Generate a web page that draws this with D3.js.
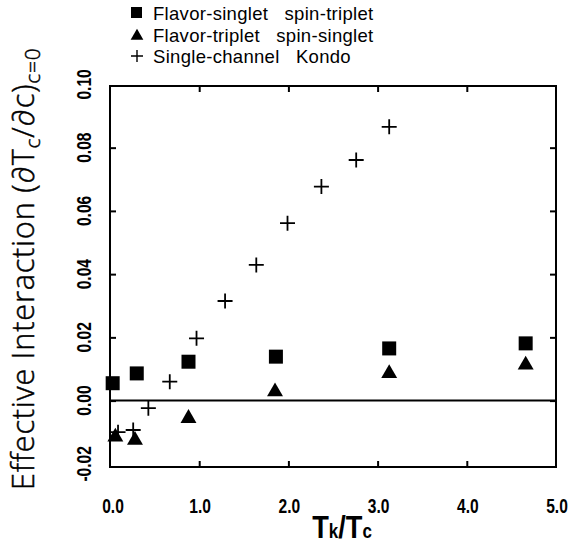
<!DOCTYPE html>
<html>
<head>
<meta charset="utf-8">
<script src="https://cdn.jsdelivr.net/npm/d3@7"></script>
<style>
  html, body { margin: 0; padding: 0; background: #fff; }
  svg { display: block; }
</style>
</head>
<body>
<svg id="chart" width="574" height="548"></svg>
<script>
// ---- data ----
const seriesNames = ["Flavor-singlet   spin-triplet", "Flavor-triplet   spin-singlet", "Single-channel   Kondo"];
const singletX = [0.03, 0.30, 0.88, 1.86, 3.13, 4.66];
const singletY = [0.0055, 0.0086, 0.0123, 0.0139, 0.0165, 0.0181];
const tripletX = [0.06, 0.28, 0.88, 1.85, 3.13, 4.66];
const tripletY = [-0.0115, -0.0125, -0.0056, 0.0028, 0.0086, 0.0113];
const kondoX = [0.09, 0.26, 0.43, 0.67, 0.97, 1.29, 1.64, 1.99, 2.37, 2.76, 3.13];
const kondoY = [-0.0100, -0.0093, -0.0024, 0.0060, 0.0197, 0.0315, 0.0429, 0.0561, 0.0677, 0.0761, 0.0866];
const xTicks = [0, 1, 2, 3, 4, 5];
const xTickLabels = ["0.0", "1.0", "2.0", "3.0", "4.0", "5.0"];
const yTicks = [-0.02, 0, 0.02, 0.04, 0.06, 0.08, 0.10];
const yTickLabels = ["-0.02", "0.00", "0.02", "0.04", "0.06", "0.08", "0.10"];

// ---- layout ----
const L = 110, R = 556, T = 86, B = 467;
const svg = d3.select("#chart");
const x = d3.scaleLinear().domain([0, 5]).range([L, R]);
const y = d3.scaleLinear().domain([-0.021, 0.0995]).range([B, T]);

const tickFont = "'Liberation Sans', Arial, sans-serif";

// frame
svg.append("rect").attr("x", L).attr("y", T).attr("width", R - L).attr("height", B - T)
  .attr("fill", "none").attr("stroke", "#000").attr("stroke-width", 2);

// inward ticks on all four sides (axes)
const tickLen = 6;
const axB = d3.axisBottom(x).tickValues(xTicks.slice(1, -1)).tickSizeInner(-tickLen).tickSizeOuter(0).tickFormat("");
const axT = d3.axisTop(x).tickValues(xTicks.slice(1, -1)).tickSizeInner(-tickLen).tickSizeOuter(0).tickFormat("");
const axL = d3.axisLeft(y).tickValues(yTicks.slice(1, -1)).tickSizeInner(-tickLen).tickSizeOuter(0).tickFormat("");
const axR = d3.axisRight(y).tickValues(yTicks.slice(1, -1)).tickSizeInner(-tickLen).tickSizeOuter(0).tickFormat("");
[[axB, `translate(0,${B})`], [axT, `translate(0,${T})`], [axL, `translate(${L},0)`], [axR, `translate(${R},0)`]].forEach(([ax, tr]) => {
  const g = svg.append("g").attr("transform", tr).call(ax);
  g.select(".domain").remove();
  g.selectAll("line").attr("stroke", "#000").attr("stroke-width", 2);
});

// x tick labels (condensed bold)
svg.append("g").selectAll("text").data(xTicks).join("text")
  .attr("transform", (d, i) => `translate(${x(d) + (i === 0 ? 3 : 1)},513) scale(0.78,1)`)
  .attr("text-anchor", "middle")
  .attr("font-family", tickFont).attr("font-weight", "bold").attr("font-size", 20)
  .text((d, i) => xTickLabels[i]);

// y tick labels (rotated, condensed bold)
svg.append("g").selectAll("text").data(yTicks).join("text")
  .attr("transform", d => `translate(91,${y(d)}) rotate(-90) scale(0.78,1)`)
  .attr("text-anchor", "middle")
  .attr("font-family", tickFont).attr("font-weight", "bold").attr("font-size", 20)
  .text((d, i) => yTickLabels[i]);

// zero line
svg.append("line").attr("x1", L).attr("x2", R).attr("y1", y(0)).attr("y2", y(0))
  .attr("stroke", "#000").attr("stroke-width", 2);

// markers
const sq = 14;
svg.append("g").selectAll("rect").data(singletX.map((d, i) => [d, singletY[i]])).join("rect")
  .attr("x", d => x(d[0]) - sq / 2).attr("y", d => y(d[1]) - sq / 2)
  .attr("width", sq).attr("height", sq).attr("fill", "#000");

const triSym = d3.symbol().type(d3.symbolTriangle).size(110);
svg.append("g").selectAll("path").data(tripletX.map((d, i) => [d, tripletY[i]])).join("path")
  .attr("d", triSym)
  .attr("transform", d => `translate(${x(d[0])},${y(d[1])})`)
  .attr("fill", "#000");

const pl = 7.5;
svg.append("g").selectAll("path").data(kondoX.map((d, i) => [d, kondoY[i]])).join("path")
  .attr("d", d => `M${x(d[0]) - pl},${y(d[1])}H${x(d[0]) + pl}M${x(d[0])},${y(d[1]) - pl}V${y(d[1]) + pl}`)
  .attr("stroke", "#000").attr("stroke-width", 1.8).attr("fill", "none");

// legend
const legFont = "'Liberation Sans', Arial, sans-serif";
const legY = [13, 35, 56];
const leg = svg.append("g");
leg.append("rect").attr("x", 131).attr("y", legY[0] - 6).attr("width", 11).attr("height", 11).attr("fill", "#000");
leg.append("path").attr("d", d3.symbol().type(d3.symbolTriangle).size(70))
  .attr("transform", `translate(137,${legY[1] + 1})`).attr("fill", "#000");
leg.append("path").attr("d", `M131,${legY[2]}H143M137,${legY[2] - 6}V${legY[2] + 6}`)
  .attr("stroke", "#000").attr("stroke-width", 1.4);
leg.selectAll("text").data(seriesNames).join("text")
  .attr("x", 153).attr("y", (d, i) => legY[i] + 6.5)
  .attr("font-family", legFont).attr("font-size", 18.5).attr("letter-spacing", 0.3)
  .attr("xml:space", "preserve").style("white-space", "pre")
  .text(d => d);

// x axis title
const xt = svg.append("text").attr("transform", "translate(342,538) scale(0.85,1)").attr("text-anchor", "middle")
  .attr("font-family", tickFont).attr("font-weight", "bold").attr("font-size", 32);
xt.append("tspan").text("T");
xt.append("tspan").attr("font-size", 20).text("k");
xt.append("tspan").attr("font-size", 32).text("/T");
xt.append("tspan").attr("font-size", 20).text("c");

// y axis title
const yt = svg.append("text").attr("transform", "translate(34,490) rotate(-90)")
  .attr("text-anchor", "start")
  .attr("font-family", "'Open Sans', 'DejaVu Sans', sans-serif").attr("font-weight", 300).attr("font-size", 28)
  .attr("letter-spacing", 0.8)
  .attr("fill", "#000").attr("stroke", "#000").attr("stroke-width", 0.45);
yt.append("tspan").text("Effective Interaction (∂T");
yt.append("tspan").attr("font-size", 19).attr("dy", 6).text("c");
yt.append("tspan").attr("dy", -6).text("/∂c)");
yt.append("tspan").attr("font-size", 19).attr("dy", 6).text("c=0");
// fit title length to reference span
const want = 445;
const got = yt.node().getComputedTextLength();
if (got > 0) {
  const k = want / got;
  yt.attr("font-size", 28 * k);
  yt.selectAll("tspan").each(function () {
    const fs = d3.select(this).attr("font-size");
    if (fs) d3.select(this).attr("font-size", +fs * k);
  });
}
</script>
</body>
</html>
